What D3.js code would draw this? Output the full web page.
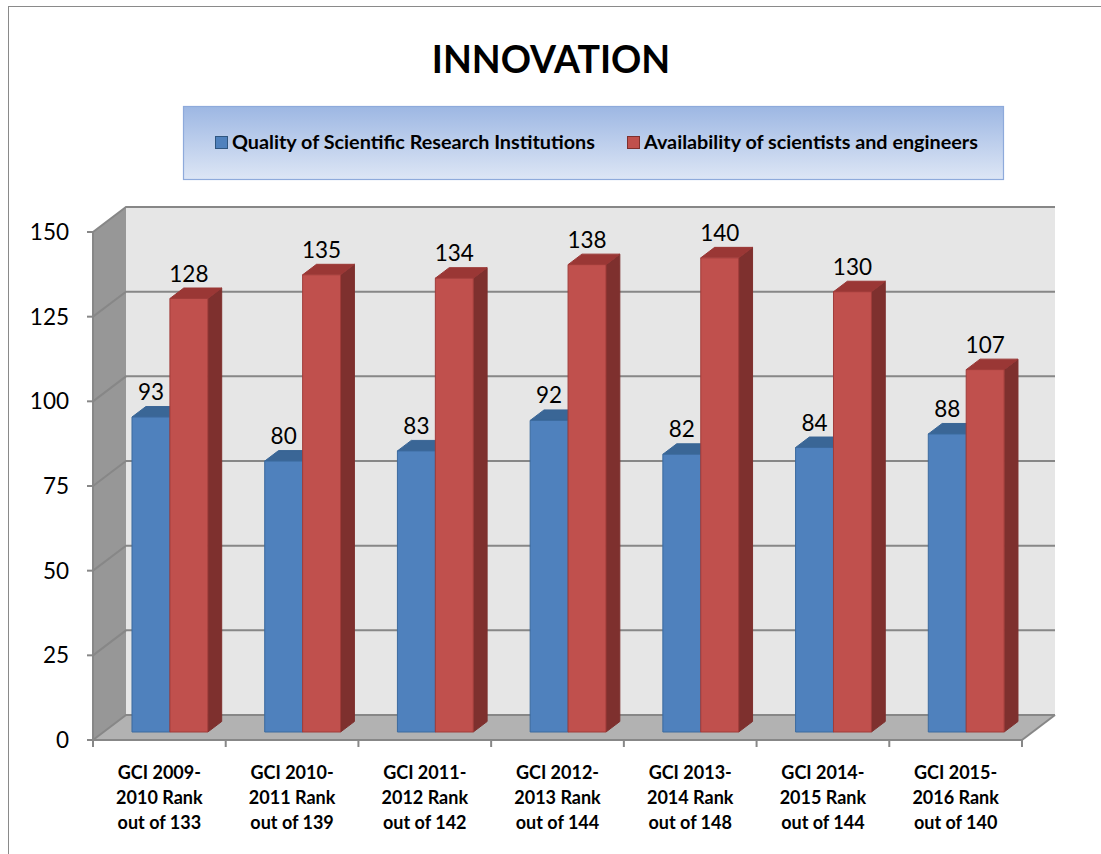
<!DOCTYPE html>
<html>
<head>
<meta charset="utf-8">
<script src="https://cdn.jsdelivr.net/npm/d3@7"></script>
<style>
  html, body { margin: 0; padding: 0; background: #ffffff; }
  svg { display: block; }
  text { font-family: Lato, "Open Sans", sans-serif; }
</style>
</head>
<body>
<svg id="chart" width="1101" height="854"></svg>
<script>
// GCI innovation pillar ranks, by report edition
const categories = [
  ["GCI 2009-", "2010 Rank", "out of 133"],
  ["GCI 2010-", "2011 Rank", "out of 139"],
  ["GCI 2011-", "2012 Rank", "out of 142"],
  ["GCI 2012-", "2013 Rank", "out of 144"],
  ["GCI 2013-", "2014 Rank", "out of 148"],
  ["GCI 2014-", "2015 Rank", "out of 144"],
  ["GCI 2015-", "2016 Rank", "out of 140"]
];
const seriesNames = ["Quality of Scientific Research Institutions", "Availability of scientists and engineers"];
const qualityValues = [93, 80, 83, 92, 82, 84, 88];
const availabilityValues = [128, 135, 134, 138, 140, 130, 107];
const yTicks = [0, 25, 50, 75, 100, 125, 150];

const seriesValues = [qualityValues, availabilityValues];
const palette = [
  { front: "#4F81BD", top: "#3A6696", side: "#2F5680", edge: "#3C6A9E" },
  { front: "#C0504D", top: "#9A3735", side: "#7E302E", edge: "#A03C3A" }
];

const svg = d3.select("#chart");

// outer chart-area border
svg.append("rect")
  .attr("x", 8.5).attr("y", 6.5).attr("width", 1120).attr("height", 880)
  .attr("fill", "#ffffff").attr("stroke", "#8a8a8a").attr("stroke-width", 1);

// title
svg.append("text")
  .attr("x", 551).attr("y", 73)
  .attr("text-anchor", "middle")
  .attr("font-size", 37.5).attr("font-weight", 700)
  .attr("fill", "#000")
  .text("INNOVATION");

// legend box with a soft blue gradient
const defs = svg.append("defs");
const lg = defs.append("linearGradient").attr("id", "legendFill")
  .attr("x1", 0).attr("y1", 0).attr("x2", 0).attr("y2", 1);
lg.append("stop").attr("offset", "0%").attr("stop-color", "#9DB7E3");
lg.append("stop").attr("offset", "100%").attr("stop-color", "#DDE6F5");

svg.append("rect")
  .attr("x", 183.5).attr("y", 106.5).attr("width", 820).attr("height", 73)
  .attr("fill", "url(#legendFill)").attr("stroke", "#8EAADB").attr("stroke-width", 1.2);

const legendX = [215, 627];
seriesNames.forEach((name, i) => {
  const g = svg.append("g").attr("transform", `translate(${legendX[i]},136)`);
  g.append("rect").attr("x", 0.5).attr("y", 0.5).attr("width", 12).attr("height", 12)
    .attr("fill", palette[i].front).attr("stroke", palette[i].side).attr("stroke-width", 1);
  g.append("text").attr("x", 17).attr("y", 13)
    .attr("font-size", 19.8).attr("font-weight", 700).attr("fill", "#000")
    .text(name);
});

// 3D plot geometry: front plane and depth offset
const plotLeft = 93, plotRight = 1022;
const depthDX = 33, depthDY = -25;
const barDepthStart = 0.32, barDepthEnd = 0.74;

const x = d3.scaleBand().domain(d3.range(categories.length)).range([plotLeft, plotRight]).padding(0);
const xSub = d3.scaleBand().domain(d3.range(seriesNames.length)).range([0, x.bandwidth()])
  .paddingInner(0).paddingOuter(0.75);
const y = d3.scaleLinear().domain([0, 150]).range([740, 232]);

const proj = (px, py, d) => [px + d * depthDX, py + d * depthDY];
const pts = arr => arr.map(p => p.join(",")).join(" ");

const y0 = y(0), yTop = y(150);

// back wall
svg.append("polygon")
  .attr("points", pts([proj(plotLeft, yTop, 1), proj(plotRight, yTop, 1), proj(plotRight, y0, 1), proj(plotLeft, y0, 1)]))
  .attr("fill", "#E6E6E6");
// side wall
svg.append("polygon")
  .attr("points", pts([[plotLeft, yTop], proj(plotLeft, yTop, 1), proj(plotLeft, y0, 1), [plotLeft, y0]]))
  .attr("fill", "#979797");
// floor
svg.append("polygon")
  .attr("points", pts([[plotLeft, y0], proj(plotLeft, y0, 1), proj(plotRight, y0, 1), [plotRight, y0]]))
  .attr("fill", "#B2B2B2");

// gridlines across the side and back walls
const grid = svg.append("g").attr("stroke", "#878787").attr("stroke-width", 2).attr("fill", "none");
yTicks.forEach(t => {
  const a = [plotLeft, y(t)], b = proj(plotLeft, y(t), 1), c = proj(plotRight, y(t), 1);
  grid.append("polyline").attr("points", pts([a, b, c]));
});
// floor front-right edge
grid.append("line")
  .attr("x1", plotRight).attr("y1", y0)
  .attr("x2", proj(plotRight, y0, 1)[0]).attr("y2", proj(plotRight, y0, 1)[1]);

// value axis
const axisG = svg.append("g").attr("stroke", "#878787").attr("stroke-width", 2);
axisG.append("line").attr("x1", plotLeft).attr("x2", plotLeft).attr("y1", yTop).attr("y2", y0);
yTicks.forEach(t => {
  axisG.append("line").attr("x1", plotLeft - 6).attr("x2", plotLeft).attr("y1", y(t)).attr("y2", y(t));
});
svg.append("g").selectAll("text").data(yTicks).join("text")
  .attr("x", 69).attr("y", d => y(d) + 8)
  .attr("text-anchor", "end")
  .attr("font-size", 22.5).attr("fill", "#000")
  .text(d => d);

// category axis
axisG.append("line").attr("x1", plotLeft).attr("x2", plotRight).attr("y1", y0).attr("y2", y0);
d3.range(categories.length + 1).forEach(i => {
  const px = i < categories.length ? x(i) : plotRight;
  axisG.append("line").attr("x1", px).attr("x2", px).attr("y1", y0).attr("y2", y0 + 7);
});
const catLabels = svg.append("g");
categories.forEach((lines, i) => {
  const cx = x(i) + x.bandwidth() / 2;
  const t = catLabels.append("text")
    .attr("x", cx).attr("y", 779)
    .attr("text-anchor", "middle")
    .attr("font-size", 18).attr("font-weight", 700).attr("fill", "#000");
  lines.forEach((ln, k) => {
    t.append("tspan").attr("x", cx).attr("dy", k === 0 ? 0 : 25).text(ln);
  });
});

// 3D bars
const bars = svg.append("g");
categories.forEach((_, i) => {
  seriesValues.forEach((vals, s) => {
    const v = vals[i];
    const c = palette[s];
    const left = x(i) + xSub(s), right = left + xSub.bandwidth();
    const fTL = proj(left, y(v), barDepthStart), fTR = proj(right, y(v), barDepthStart);
    const fBL = proj(left, y0, barDepthStart), fBR = proj(right, y0, barDepthStart);
    const bTL = proj(left, y(v), barDepthEnd), bTR = proj(right, y(v), barDepthEnd);
    const bBR = proj(right, y0, barDepthEnd);
    const g = bars.append("g").attr("stroke-width", 1).attr("stroke-linejoin", "round");
    g.append("polygon").attr("points", pts([fTR, bTR, bBR, fBR]))
      .attr("fill", c.side).attr("stroke", c.side);
    g.append("polygon").attr("points", pts([fTL, bTL, bTR, fTR]))
      .attr("fill", c.top).attr("stroke", c.top);
    g.append("polygon").attr("points", pts([fTL, fTR, fBR, fBL]))
      .attr("fill", c.front).attr("stroke", c.edge);
    // value label
    bars.append("text")
      .attr("x", (fTL[0] + fTR[0]) / 2).attr("y", fTL[1] - 17)
      .attr("text-anchor", "middle")
      .attr("font-size", 22.5).attr("fill", "#000")
      .text(v);
  });
});
</script>
</body>
</html>
